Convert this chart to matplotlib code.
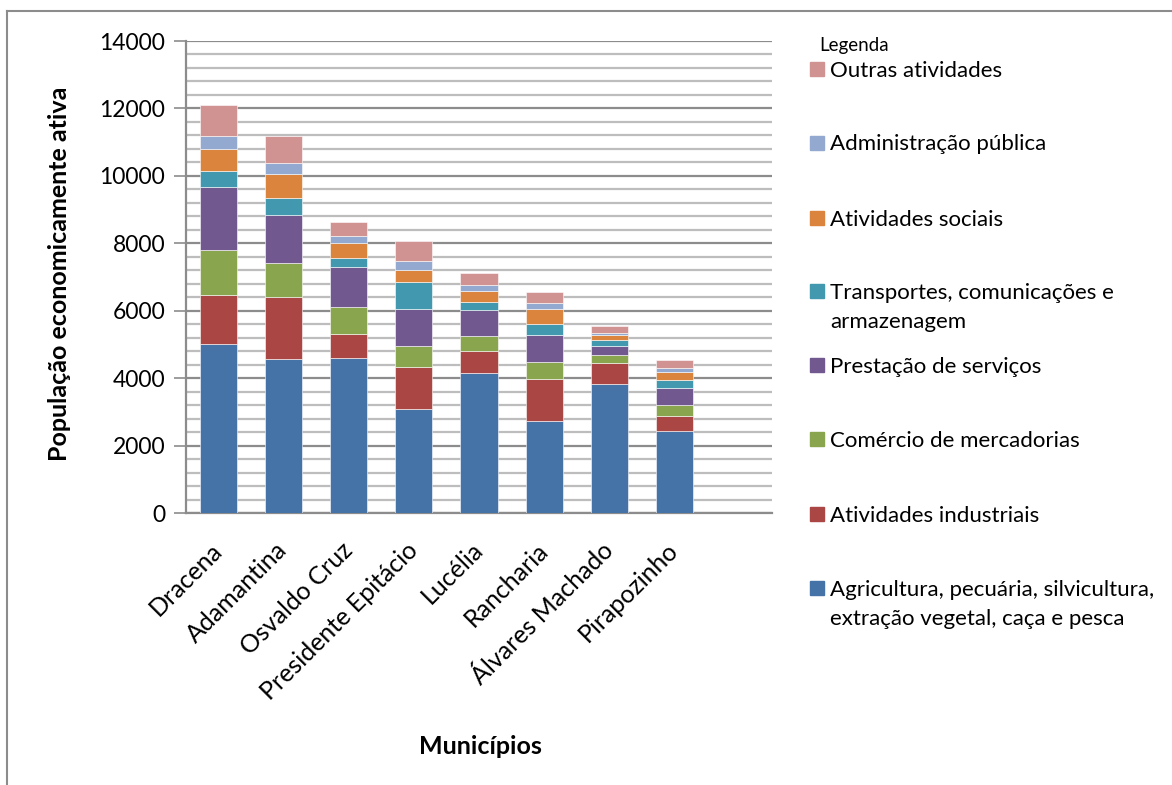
import matplotlib
matplotlib.use("Agg")
import matplotlib.pyplot as plt
from matplotlib.lines import Line2D
from matplotlib.patches import Rectangle
import numpy as np

plt.rcParams['font.family'] = ['Lato', 'DejaVu Sans']

municipios = ["Dracena", "Adamantina", "Osvaldo Cruz", "Presidente Epitácio",
              "Lucélia", "Rancharia", "Álvares Machado", "Pirapozinho"]

agricultura = [5000, 4570, 4610, 3090, 4150, 2730, 3840, 2420]
industriais = [1470, 1840, 710, 1230, 650, 1250, 620, 465]
comercio = [1330, 1000, 800, 630, 445, 495, 225, 305]
servicos = [1860, 1430, 1175, 1110, 790, 790, 265, 525]
transportes = [475, 490, 270, 790, 210, 345, 180, 220]
sociais = [660, 720, 435, 365, 325, 435, 160, 255]
administracao = [395, 330, 230, 250, 180, 195, 60, 110]
outras = [920, 810, 395, 605, 355, 310, 190, 230]

series = [
    ("Agricultura, pecuária, silvicultura,\nextração vegetal, caça e pesca", agricultura, "#4572A7"),
    ("Atividades industriais", industriais, "#AA4643"),
    ("Comércio de mercadorias", comercio, "#89A54E"),
    ("Prestação de serviços", servicos, "#71588F"),
    ("Transportes, comunicações e\narmazenagem", transportes, "#4198AF"),
    ("Atividades sociais", sociais, "#DB843D"),
    ("Administração pública", administracao, "#93A9CF"),
    ("Outras atividades", outras, "#D19392"),
]

W, H = 1172, 785
fig = plt.figure(figsize=(W / 100, H / 100), dpi=100)
ax = fig.add_axes([186 / W, 1 - 513 / H, (772 - 186) / W, (513 - 41) / H])

x = np.arange(len(municipios))
bottom = np.zeros(len(municipios))
for name, vals, color in series:
    vals = np.array(vals, dtype=float)
    ax.bar(x, vals, bottom=bottom, width=0.57, color=color,
           edgecolor="white", linewidth=0.4, zorder=3)
    bottom += vals

ax.set_xlim(-0.5, 8.5)
ax.set_ylim(0, 14000)
ax.set_yticks(np.arange(0, 14001, 2000))
ax.set_yticks(np.arange(0, 14001, 400), minor=True)
ax.yaxis.grid(True, which="minor", color="#BDBDBD", linewidth=1.6, zorder=0)
ax.yaxis.grid(True, which="major", color="#8C8C8C", linewidth=1.6, zorder=1)
ax.tick_params(axis="y", which="major", length=9, width=1.2, color="#8C8C8C",
               labelsize=16.5, pad=6)
ax.tick_params(axis="y", which="minor", length=0)
ax.set_yticklabels([str(v) for v in range(0, 14001, 2000)])

ax.set_xticks(x)
ax.set_xticklabels(municipios, rotation=45, ha="right", va="center",
                   rotation_mode="anchor", fontsize=18)
ax.tick_params(axis="x", length=0, pad=24)

for side in ("top", "right"):
    ax.spines[side].set_visible(False)
for side in ("left", "bottom"):
    ax.spines[side].set_color("#8C8C8C")
    ax.spines[side].set_linewidth(1.6)

fig.text(60 / W, 1 - 274 / H, "População economicamente ativa", rotation=90,
         ha="center", va="center", fontsize=18, fontweight="bold")
fig.text(480 / W, 1 - 746 / H, "Municípios", ha="center", va="center",
         fontsize=18, fontweight="bold")

# legend, drawn entry by entry from top to bottom
fig.text(819 / W, 1 - 46 / H, "Legenda", ha="left", va="center", fontsize=13.5)
legend_y = [69, 142.5, 217.5, 291, 365, 439, 514, 588]
line_step = 29
for (name, vals, color), yy in zip(reversed(series), legend_y):
    fig.add_artist(Rectangle((810 / W, 1 - (yy + 7) / H), 14 / W, 14 / H,
                             transform=fig.transFigure, color=color))
    for i, line in enumerate(name.split("\n")):
        fig.text(830 / W, 1 - (yy + 8 + i * line_step) / H, line,
                 ha="left", va="baseline", fontsize=16)

# outer frame
fig.add_artist(Line2D([7 / W, 1], [1 - 11 / H, 1 - 11 / H],
                      transform=fig.transFigure, color="#8C8C8C", linewidth=1.5))
fig.add_artist(Line2D([7 / W, 7 / W], [0, 1 - 11 / H],
                      transform=fig.transFigure, color="#8C8C8C", linewidth=1.5))

fig.savefig("out.png", dpi=100)
